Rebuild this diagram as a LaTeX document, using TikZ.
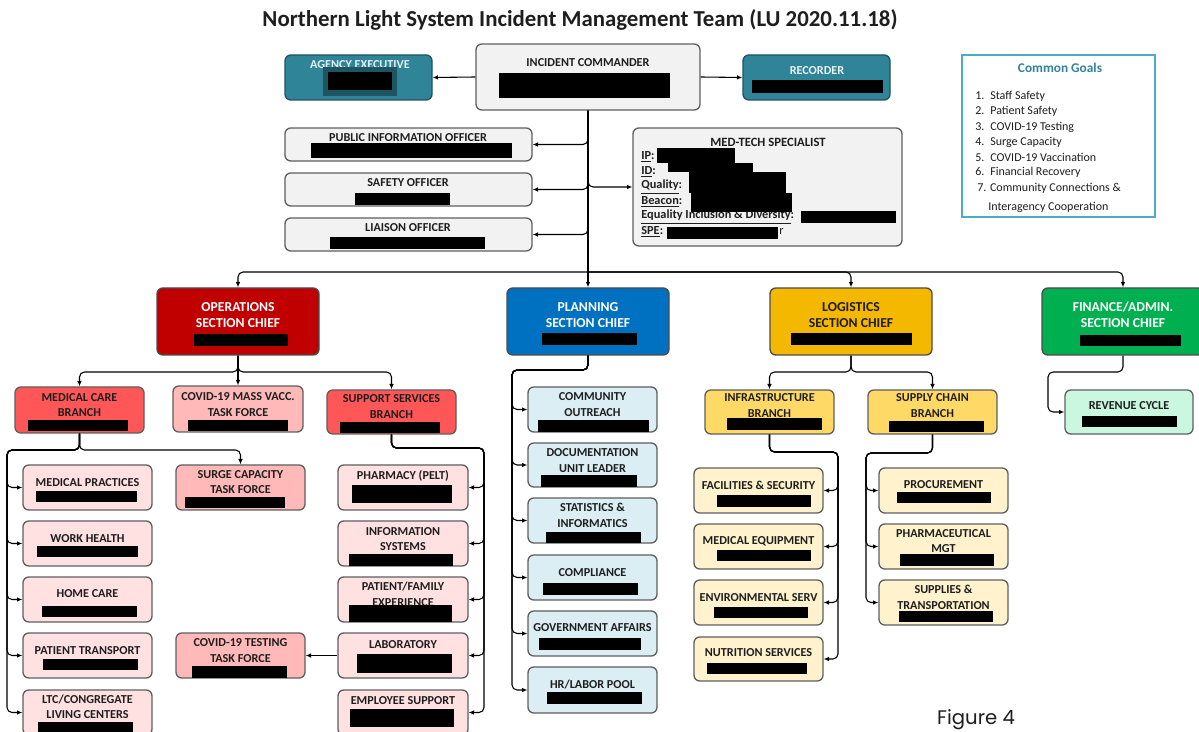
\documentclass[tikz,border=0pt]{standalone}
\usepackage{fontspec}
\setmainfont{Carlito}
\newfontfamily\figfont{Poppins}
\usetikzlibrary{fit,arrows.meta}
\definecolor{bordergray}{HTML}{5F5F5F}
\definecolor{textdark}{HTML}{1E1E1E}
\definecolor{tealfill}{HTML}{2F8498}
\definecolor{tealdark}{HTML}{1E5563}
\definecolor{tealline}{HTML}{4BACC6}
\definecolor{tealtext}{HTML}{31849B}
\definecolor{greyfill}{HTML}{F2F2F2}
\definecolor{opsred}{HTML}{C00000}
\definecolor{planblue}{HTML}{0070C0}
\definecolor{loggold}{HTML}{F4B800}
\definecolor{fingreen}{HTML}{00B050}
\definecolor{branchred}{HTML}{FF5757}
\definecolor{taskpink}{HTML}{FFB9B9}
\definecolor{childpink}{HTML}{FFE1E1}
\definecolor{childblue}{HTML}{DAEEF3}
\definecolor{branchgold}{HTML}{FFD966}
\definecolor{childcream}{HTML}{FFF2CC}
\definecolor{mint}{HTML}{C9F7DF}
\newcommand{\rd}[4]{\fill[black] (#1,#2) rectangle (#3,#4);}
\tikzset{
  box/.style={draw=bordergray, line width=0.8pt, rounded corners=3.5pt, inner sep=0pt},
  lbl/.style={font=\fontsize{7.3}{9.3}\selectfont\bfseries, align=center, inner sep=0pt, text=textdark},
  chief/.style={font=\fontsize{8.2}{9.6}\selectfont\bfseries, align=center, inner sep=0pt},
  goal/.style={font=\fontsize{7.2}{8.6}\selectfont, anchor=west, inner sep=0pt, text=textdark},
  mtl/.style={font=\fontsize{7.4}{8.4}\selectfont\bfseries, anchor=west, inner sep=0pt, text=textdark},
  conn/.style={draw=black, line width=0.65pt, rounded corners=3pt, -{Latex[length=3.2pt,width=2.8pt]}},
  trunk/.style={draw=black, line width=1pt, rounded corners=3pt}
}
\begin{document}
\begin{tikzpicture}[x=0.6pt,y=-0.6pt]
\useasboundingbox (0,0) rectangle (1199,732);
\clip (0,0) rectangle (1199,732);
\fill[white] (0,0) rectangle (1199,732);
% title
\node[font=\fontsize{13.7}{15}\selectfont\bfseries, text=textdark, inner sep=0] (title) at (580,20) {Northern Light System Incident Management Team (LU 2020.11.18)};
% top row
\node[box, fill=tealfill, draw=tealdark, fit={(285,55) (432,100)}] (agency) {};
\node[box, fill=greyfill, fit={(476,44) (700,110)}] (ic) {};
\node[box, fill=tealfill, draw=tealdark, fit={(743,55) (890,100)}] (rec) {};
\node[lbl, text=white!88!tealfill] (agencyT) at (360,65) {AGENCY EXECUTIVE};
\fill[tealdark] (323,67) rectangle (397,96);
\rd{328}{72}{392}{90}
\node[lbl] (icT) at (588,63) {INCIDENT COMMANDER};
\rd{499}{73}{670}{98}
\node[lbl, text=white!90!tealfill] (recT) at (817,71) {RECORDER};
\rd{752}{80}{883}{93}
% officers
\node[box, fill=greyfill, fit={(285,128) (532,161)}] (pio) {};
\node[box, fill=greyfill, fit={(285,173) (532,206)}] (safety) {};
\node[box, fill=greyfill, fit={(285,218) (532,251)}] (liaison) {};
\node[lbl] (pioT) at (408,138) {PUBLIC INFORMATION OFFICER};
\node[lbl] (safetyT) at (408,183) {SAFETY OFFICER};
\node[lbl] (liaisonT) at (408,228) {LIAISON OFFICER};
\rd{311}{143}{512}{158}
\rd{355}{193}{450}{205}
\rd{330}{237}{485}{249}
% med-tech
\node[box, fill=greyfill, fit={(633,128) (902,246)}] (mt) {};
\node[lbl, font=\fontsize{7.6}{8.6}\selectfont\bfseries] (mtT) at (768,142) {MED-TECH SPECIALIST};
\node[mtl] (mt1) at (641,157) {\underline{IP}:};
\node[mtl] (mt2) at (641,172) {\underline{ID}:};
\node[mtl] (mt3) at (641,187) {\underline{Quality}:};
\node[mtl] (mt4) at (641,202) {\underline{Beacon}:};
\node[mtl] (mt5) at (641,217) {\underline{Equality Inclusion \& Diversity}:};
\node[mtl] (mt6) at (641,232) {\underline{SPE}:};
\node[mtl, font=\fontsize{7.4}{8.4}\selectfont] (mt6r) at (779,232) {r};
\rd{657}{148}{735}{163}
\rd{668}{163}{753}{172}
\rd{689}{172}{786}{193}
\rd{691}{193}{792}{212}
\rd{801}{211}{896}{223}
\rd{667}{227}{778}{239}
% common goals
\node[draw=tealline, line width=1.3pt, inner sep=0, fit={(962,55) (1155,217)}] (goals) {};
\node[font=\fontsize{8}{9}\selectfont\bfseries, text=tealtext, inner sep=0] (goalsT) at (1060,68) {Common Goals};
\node[goal] (g1) at (975,96) {\makebox[9pt][l]{1.}Staff Safety};
\node[goal] (g2) at (975,111) {\makebox[9pt][l]{2.}Patient Safety};
\node[goal] (g3) at (975,127) {\makebox[9pt][l]{3.}COVID-19 Testing};
\node[goal] (g4) at (975,142) {\makebox[9pt][l]{4.}Surge Capacity};
\node[goal] (g5) at (975,157) {\makebox[9pt][l]{5.}COVID-19 Vaccination};
\node[goal] (g6) at (975,172) {\makebox[9pt][l]{6.}Financial Recovery};
\node[goal] (g7) at (977,188) {7. Community Connections \&};
\node[goal] (g8) at (988,207) {Interagency Cooperation};
% section chiefs
\node[box, fill=opsred, draw=bordergray!80!black, fit={(157,288) (319,355)}] (ops) {};
\node[box, fill=planblue, draw=bordergray!80!black, fit={(507,288) (669,355)}] (plan) {};
\node[box, fill=loggold, draw=bordergray!80!black, fit={(770,288) (932,355)}] (log) {};
\node[box, fill=fingreen, draw=bordergray!80!black, fit={(1042,288) (1204,355)}] (fin) {};
\node[chief, text=white] (opsT) at (238,315) {OPERATIONS\\SECTION CHIEF};
\node[chief, text=white] (planT) at (588,315) {PLANNING\\SECTION CHIEF};
\node[chief, text=textdark] (logT) at (851,315) {LOGISTICS\\SECTION CHIEF};
\node[chief, text=white] (finT) at (1123,315) {FINANCE/ADMIN.\\SECTION CHIEF};
\rd{194}{334}{288}{346}
\rd{542}{333}{637}{345}
\rd{791}{333}{912}{345}
\rd{1080}{335}{1181}{346}
% operations branches
\node[box, fill=branchred, fit={(15,387) (144,433)}] (medcare) {};
\node[box, fill=taskpink, fit={(173,386) (303,432)}] (mass) {};
\node[box, fill=branchred, fit={(327,390) (456,434)}] (support) {};
\node[lbl] (medcareT) at (79.5,405) {MEDICAL CARE\\BRANCH};
\node[lbl] (massT) at (238,404.5) {COVID-19 MASS VACC.\\TASK FORCE};
\node[lbl] (supportT) at (391.5,406.5) {SUPPORT SERVICES\\BRANCH};
\rd{28}{420}{128}{431}
\rd{188}{420}{288}{431}
\rd{340}{422}{440}{433}
% medical care children
\node[box, fill=taskpink, fit={(176,465) (305,510)}] (surge) {};
\node[box, fill=childpink, fit={(23,465) (152,510)}] (mp) {};
\node[box, fill=childpink, fit={(23,521) (152,566)}] (wh) {};
\node[box, fill=childpink, fit={(23,577) (152,622)}] (hc) {};
\node[box, fill=childpink, fit={(23,633) (152,678)}] (pt) {};
\node[box, fill=childpink, fit={(23,690) (152,735)}] (ltc) {};
\node[lbl] (surgeT) at (240.5,482) {SURGE CAPACITY\\TASK FORCE};
\node[lbl] (mpT) at (87.5,483) {MEDICAL PRACTICES};
\node[lbl] (whT) at (87.5,539) {WORK HEALTH};
\node[lbl] (hcT) at (87.5,594) {HOME CARE};
\node[lbl] (ptT) at (87.5,651) {PATIENT TRANSPORT};
\node[lbl] (ltcT) at (87.5,707) {LTC/CONGREGATE\\LIVING CENTERS};
\rd{185}{497}{285}{508}
\rd{36}{491}{137}{502}
\rd{37}{546}{138}{557}
\rd{42}{606}{137}{617}
\rd{43}{659}{138}{670}
\rd{38}{722}{133}{733}
% support children
\node[box, fill=childpink, fit={(338,465) (468,510)}] (pharm) {};
\node[box, fill=childpink, fit={(338,521) (468,566)}] (is) {};
\node[box, fill=childpink, fit={(338,577) (468,622)}] (pfe) {};
\node[box, fill=childpink, fit={(338,633) (468,678)}] (lab) {};
\node[box, fill=childpink, fit={(338,690) (468,735)}] (es) {};
\node[box, fill=taskpink, fit={(176,633) (305,678)}] (test) {};
\node[lbl] (pharmT) at (403,476) {PHARMACY (PELT)};
\node[lbl] (isT) at (403,539) {INFORMATION\\SYSTEMS};
\node[lbl] (pfeT) at (403,594.5) {PATIENT/FAMILY\\EXPERIENCE};
\node[lbl] (labT) at (403,645) {LABORATORY};
\node[lbl] (esT) at (403,701) {EMPLOYEE SUPPORT};
\node[lbl] (testT) at (240.5,650.5) {COVID-19 TESTING\\TASK FORCE};
\rd{352}{485}{452}{503}
\rd{349}{554}{453}{566}
\rd{349}{605}{452}{622}
\rd{357}{654}{452}{673}
\rd{350}{709}{454}{727}
\rd{192}{666}{287}{678}
% planning children
\node[box, fill=childblue, fit={(528,387) (657,432)}] (co) {};
\node[box, fill=childblue, fit={(528,443) (657,487)}] (dul) {};
\node[box, fill=childblue, fit={(528,498) (657,543)}] (si) {};
\node[box, fill=childblue, fit={(528,555) (657,600)}] (comp) {};
\node[box, fill=childblue, fit={(528,611) (657,656)}] (ga) {};
\node[box, fill=childblue, fit={(528,667) (657,713)}] (hr) {};
\node[lbl] (coT) at (592.5,404.5) {COMMUNITY\\OUTREACH};
\node[lbl] (dulT) at (592.5,460.5) {DOCUMENTATION\\UNIT LEADER};
\node[lbl] (siT) at (592.5,515.5) {STATISTICS \&\\INFORMATICS};
\node[lbl] (compT) at (592.5,573) {COMPLIANCE};
\node[lbl] (gaT) at (592.5,628) {GOVERNMENT AFFAIRS};
\node[lbl] (hrT) at (592.5,685) {HR/LABOR POOL};
\rd{538}{420}{649}{432}
\rd{541}{475}{637}{487}
\rd{546}{532}{641}{543}
\rd{543}{583}{638}{595}
\rd{539}{638}{641}{650}
\rd{547}{692}{642}{704}
% logistics branches
\node[box, fill=branchgold, fit={(705,390) (834,434)}] (infra) {};
\node[box, fill=branchgold, fit={(868,390) (997,434)}] (supply) {};
\node[lbl] (infraT) at (769.5,405.5) {INFRASTRUCTURE\\BRANCH};
\node[lbl] (supplyT) at (932.5,405.5) {SUPPLY CHAIN\\BRANCH};
\rd{727}{418}{822}{430}
\rd{889}{421}{984}{432}
\node[box, fill=childcream, fit={(694,468) (823,513)}] (fac) {};
\node[box, fill=childcream, fit={(694,524) (823,569)}] (me) {};
\node[box, fill=childcream, fit={(694,580) (823,625)}] (env) {};
\node[box, fill=childcream, fit={(694,637) (823,681)}] (nut) {};
\node[lbl] (facT) at (758.5,485) {FACILITIES \& SECURITY};
\node[lbl] (meT) at (758.5,541) {MEDICAL EQUIPMENT};
\node[lbl] (envT) at (758.5,598) {ENVIRONMENTAL SERV};
\node[lbl] (nutT) at (758.5,653) {NUTRITION SERVICES};
\rd{717}{495}{811}{507}
\rd{717}{550}{811}{561}
\rd{714}{607}{808}{618}
\rd{707}{663}{807}{674}
\node[box, fill=childcream, fit={(879,468) (1008,513)}] (proc) {};
\node[box, fill=childcream, fit={(879,524) (1008,569)}] (pm) {};
\node[box, fill=childcream, fit={(879,580) (1008,625)}] (st) {};
\node[lbl] (procT) at (943.5,485) {PROCUREMENT};
\node[lbl] (pmT) at (943.5,541) {PHARMACEUTICAL\\MGT};
\node[lbl] (stT) at (943.5,597.5) {SUPPLIES \&\\TRANSPORTATION};
\rd{897}{492}{991}{503}
\rd{900}{554}{994}{566}
\rd{899}{611}{993}{622}
% finance
\node[box, fill=mint, fit={(1065,390) (1193,434)}] (rev) {};
\node[lbl] (revT) at (1129,406) {REVENUE CYCLE};
\rd{1082}{416}{1177}{427}
% figure caption
\node[font=\figfont\fontsize{11.8}{13}\selectfont, text=textdark, inner sep=0] (fig) at (976,720) {Figure 4};
% connectors: top
\coordinate (bus) at (588,272);
\draw[conn] (ic.west) -- (agency.east);
\draw[conn] (ic.east) -- (rec.west);
\draw[trunk] (ic.south) -- (bus);
\draw[conn] (ic.south) |- (pio.east);
\draw[conn] (ic.south) |- (safety.east);
\draw[conn] (ic.south) |- (liaison.east);
\draw[conn] (ic.south) |- (mt.west);
\draw[conn] (bus) -| (ops.north);
\draw[conn] (bus) -- (plan.north);
\draw[conn] (bus) -| (log.north);
\draw[conn] (bus) -| (fin.north);
% operations
\coordinate (opsbus) at (238,372);
\draw[conn] (ops.south) |- (opsbus) -| (medcare.north);
\draw[conn] (ops.south) -- (mass.north);
\draw[conn] (ops.south) |- (opsbus) -| (support.north);
\coordinate (mcl) at (7,450);
\coordinate (mcj) at (79.5,450);
\draw[conn] (medcare.south) |- (mcl) |- (mp.west);
\draw[conn] (medcare.south) |- (mcl) |- (wh.west);
\draw[conn] (medcare.south) |- (mcl) |- (hc.west);
\draw[conn] (medcare.south) |- (mcl) |- (pt.west);
\draw[conn] (medcare.south) |- (mcl) |- (ltc.west);
\draw[conn] (medcare.south) -- (mcj) -| (surge.north);
\coordinate (ssr) at (484,448);
\draw[conn] (support.south) |- (ssr) |- (pharm.east);
\draw[conn] (support.south) |- (ssr) |- (is.east);
\draw[conn] (support.south) |- (ssr) |- (pfe.east);
\draw[conn] (support.south) |- (ssr) |- (lab.east);
\draw[conn] (support.south) |- (ssr) |- (es.east);
\draw[conn] (lab.west) -- (test.east);
% planning
\coordinate (pll) at (512,370);
\draw[conn] (plan.south) |- (pll) |- (co.west);
\draw[conn] (plan.south) |- (pll) |- (dul.west);
\draw[conn] (plan.south) |- (pll) |- (si.west);
\draw[conn] (plan.south) |- (pll) |- (comp.west);
\draw[conn] (plan.south) |- (pll) |- (ga.west);
\draw[conn] (plan.south) |- (pll) |- (hr.west);
% logistics
\coordinate (logbus) at (851,372);
\draw[conn] (log.south) |- (logbus) -| (infra.north);
\draw[conn] (log.south) |- (logbus) -| (supply.north);
\coordinate (infr) at (838,452);
\draw[conn] (infra.south) |- (infr) |- (fac.east);
\draw[conn] (infra.south) |- (infr) |- (me.east);
\draw[conn] (infra.south) |- (infr) |- (env.east);
\draw[conn] (infra.south) |- (infr) |- (nut.east);
\coordinate (supl) at (866,453);
\draw[conn] (supply.south) |- (supl) |- (proc.west);
\draw[conn] (supply.south) |- (supl) |- (pm.west);
\draw[conn] (supply.south) |- (supl) |- (st.west);
% finance
\coordinate (finl) at (1048,372);
\draw[conn] (fin.south) |- (finl) |- (rev.west);
\end{tikzpicture}
\end{document}
